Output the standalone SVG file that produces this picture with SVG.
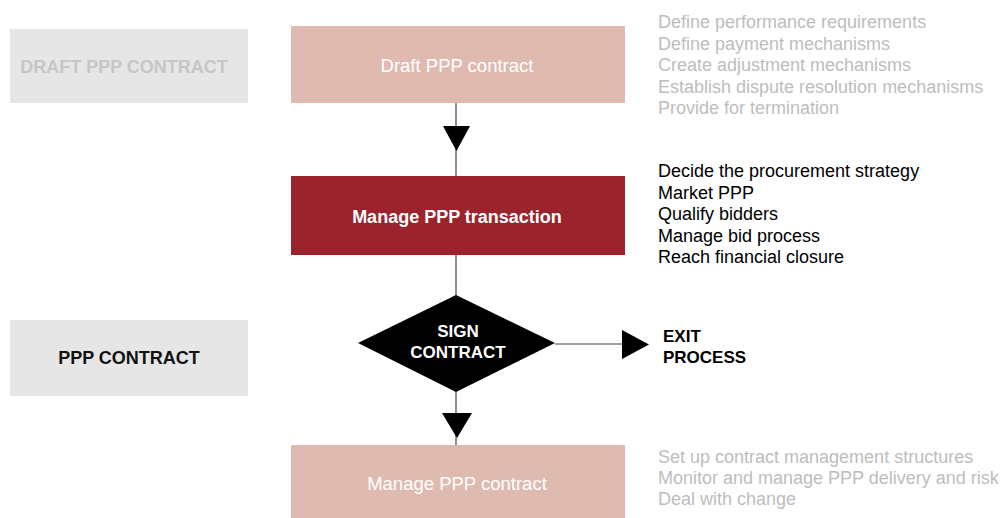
<svg xmlns="http://www.w3.org/2000/svg" width="1003" height="518" viewBox="0 0 1003 518">
<style>
text{font-family:"Liberation Sans",Arial,sans-serif}
.lbl{font-size:18px;font-weight:bold;text-anchor:middle}
.box{font-size:18.5px;fill:#ffffff;text-anchor:middle}
.lst{font-size:18px}
.grey{fill:#bdbdbd}
.line{stroke:#444;stroke-width:1.2;fill:none}
</style>
<rect width="1003" height="518" fill="#ffffff"/>
<g id="side-draft">
<rect x="10" y="29" width="238" height="74" fill="#e6e6e6"/>
<text class="lbl" x="124" y="73" fill="#c6c6c6">DRAFT PPP CONTRACT</text>
</g>
<g id="side-contract">
<rect x="10" y="320" width="238" height="76" fill="#e6e6e6"/>
<text class="lbl" x="129" y="364" fill="#111">PPP CONTRACT</text>
</g>
<g id="connectors">
<line class="line" x1="456" y1="103" x2="456" y2="176"/>
<polygon points="443,126 470,126 456.5,151" fill="#000"/>
<line class="line" x1="456" y1="255" x2="456" y2="445"/>
<line class="line" x1="555" y1="344" x2="625" y2="344"/>
<polygon points="622,330 622,359 649,344.5" fill="#000"/>
<polygon points="442,413 472,413 457,438" fill="#000"/>
</g>
<g id="draft">
<rect x="291" y="26" width="334" height="77" fill="#dfbab0"/>
<text class="box" x="457" y="72">Draft PPP contract</text>
</g>
<g id="transaction">
<rect x="291" y="176" width="334" height="79" fill="#9b232d"/>
<text class="box" x="457" y="223" style="font-weight:bold;font-size:18px">Manage PPP transaction</text>
</g>
<g id="sign">
<polygon points="358,343 456,295 555,343 456,392" fill="#000"/>
<text class="lbl" x="458" y="337" fill="#fff" style="font-size:17px">SIGN</text>
<text class="lbl" x="458" y="358" fill="#fff" style="font-size:17px">CONTRACT</text>
</g>
<g id="exit">
<text x="663" y="342" style="font-size:17px;font-weight:bold" fill="#000">EXIT</text>
<text x="663" y="363" style="font-size:17px;font-weight:bold" fill="#000">PROCESS</text>
</g>
<g id="manage-contract">
<rect x="291" y="445" width="334" height="73" fill="#dfbab0"/>
<text class="box" x="457" y="490">Manage PPP contract</text>
</g>
<g id="list-draft">
<text class="lst grey" x="658" y="28">Define performance requirements</text>
<text class="lst grey" x="658" y="49.5">Define payment mechanisms</text>
<text class="lst grey" x="658" y="71">Create adjustment mechanisms</text>
<text class="lst grey" x="658" y="92.5">Establish dispute resolution mechanisms</text>
<text class="lst grey" x="658" y="114">Provide for termination</text>
</g>
<g id="list-transaction">
<text class="lst" x="658" y="177" fill="#000">Decide the procurement strategy</text>
<text class="lst" x="658" y="198.5" fill="#000">Market PPP</text>
<text class="lst" x="658" y="220" fill="#000">Qualify bidders</text>
<text class="lst" x="658" y="241.5" fill="#000">Manage bid process</text>
<text class="lst" x="658" y="263" fill="#000">Reach financial closure</text>
</g>
<g id="list-contract">
<text class="lst grey" x="658" y="463">Set up contract management structures</text>
<text class="lst grey" x="658" y="484">Monitor and manage PPP delivery and risk</text>
<text class="lst grey" x="658" y="505">Deal with change</text>
</g>
</svg>
